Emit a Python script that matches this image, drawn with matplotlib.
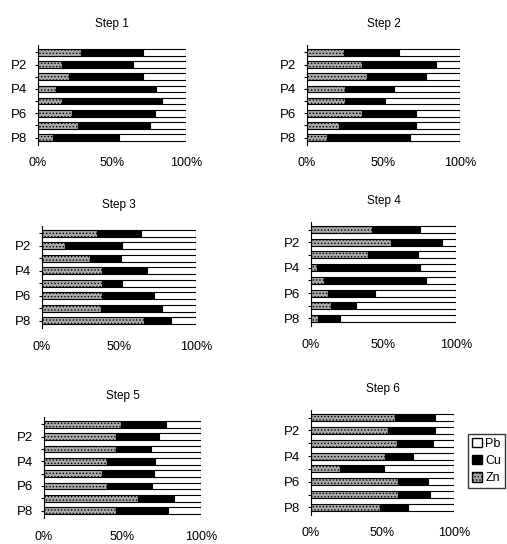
import numpy as np
import matplotlib.pyplot as plt
from matplotlib.patches import Patch

plt.rcParams['font.family'] = ['Liberation Sans', 'DejaVu Sans']
plt.rcParams['hatch.linewidth'] = 0.6

points = ['P1', 'P2', 'P3', 'P4', 'P5', 'P6', 'P7', 'P8']
steps = ['Step 1', 'Step 2', 'Step 3', 'Step 4', 'Step 5', 'Step 6']

# cumulative boundaries: Zn share, Zn+Cu share (%), Pb is the rest
zn = [
    [29, 16, 21, 12, 16, 23, 27, 10],
    [24, 36, 39, 25, 25, 36, 21, 13],
    [36, 15, 31, 39, 39, 39, 38, 66],
    [42, 55, 39, 4, 9, 12, 14, 5],
    [49, 46, 46, 40, 37, 40, 60, 46],
    [59, 54, 60, 52, 20, 61, 61, 48],
]
zn_cu = [
    [71, 64, 71, 80, 84, 79, 76, 55],
    [60, 84, 78, 57, 51, 71, 71, 67],
    [64, 52, 51, 68, 52, 73, 78, 84],
    [75, 90, 74, 75, 79, 44, 31, 20],
    [78, 73, 68, 71, 70, 69, 83, 79],
    [87, 87, 85, 71, 51, 82, 83, 68],
]

W, H = 507, 544
# axes boxes in pixels: left, right, top, bottom
boxes = [
    (38, 186, 45, 145),
    (307, 460, 45, 145),
    (42, 196, 226, 328),
    (311, 456, 222, 326),
    (44, 201, 417, 518),
    (311, 454, 410, 515),
]

fig = plt.figure(figsize=(W / 100, H / 100), dpi=100)

for i, (l, r, t, b) in enumerate(boxes):
    ax = fig.add_axes([l / W, 1 - b / H, (r - l) / W, (b - t) / H])
    y = np.arange(len(points))
    z = np.array(zn[i])
    zc = np.array(zn_cu[i])
    cu = zc - z
    pb = 100 - zc
    ax.barh(y, z, height=0.55, color='#a8a8a8', edgecolor='black',
            hatch='.....', linewidth=0.8)
    ax.barh(y, cu, left=z, height=0.55, color='black', edgecolor='black',
            linewidth=0.8)
    ax.barh(y, pb, left=zc, height=0.55, color='white', edgecolor='black',
            linewidth=0.8)
    ax.set_xlim(0, 100)
    ax.set_ylim(7.6, -0.6)
    ax.set_yticks(y)
    ax.set_yticklabels([p if k % 2 == 1 else '' for k, p in enumerate(points)])
    ax.set_xticks([0, 50, 100])
    ax.set_xticklabels(['0%', '50%', '100%'])
    ax.tick_params(axis='x', length=0, pad=9, labelsize=9)
    ax.tick_params(axis='y', length=2, pad=6, labelsize=9.5)
    for s in ['top', 'right', 'bottom']:
        ax.spines[s].set_visible(False)
    ax.spines['left'].set_linewidth(0.8)
    ax.set_title(steps[i], fontsize=8.5, pad=13)

handles = [
    Patch(facecolor='white', edgecolor='black', label='Pb'),
    Patch(facecolor='black', edgecolor='black', label='Cu'),
    Patch(facecolor='#a8a8a8', edgecolor='black', hatch='.....', label='Zn'),
]
fig.legend(handles=handles, loc='upper left', bbox_to_anchor=(468 / W, 1 - 434 / H),
           frameon=True, fancybox=False, edgecolor='black', fontsize=9,
           handlelength=0.8, handleheight=0.8, handletextpad=0.3,
           borderpad=0.3, labelspacing=0.4, borderaxespad=0)

fig.savefig('out.png', dpi=100)
